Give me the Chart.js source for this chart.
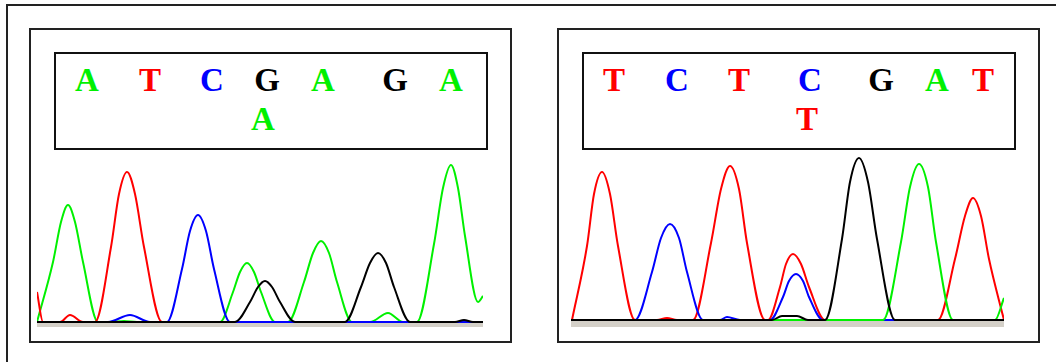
<!DOCTYPE html>
<html>
<head>
<meta charset="utf-8">
<script src="https://cdn.jsdelivr.net/npm/chart.js@4"></script>
<style>
  html, body { margin: 0; padding: 0; background: #fff; width: 1056px; height: 362px; overflow: hidden; }
  .frame { position: absolute; border: 2px solid #222; box-sizing: border-box; }
  .calls { position: absolute; border: 2px solid #111; box-sizing: border-box; background: #fff; }
  .base { position: absolute; font-family: "Liberation Serif", "Times New Roman", serif; font-weight: bold;
          font-size: 33px; line-height: 33px; transform: translateX(-50%); }
  canvas { position: absolute; }
</style>
</head>
<body>
<div class="frame" style="left:6px; top:4px; width:1100px; height:420px;"></div>
<div class="frame" style="left:29px; top:28px; width:483px; height:315px;"></div>
<div class="frame" style="left:557px; top:28px; width:483px; height:315px;"></div>
<div class="calls" style="left:54px; top:52px; width:434px; height:98px;"></div>
<div class="calls" style="left:582px; top:52px; width:434px; height:98px;"></div>
<div id="labels"></div>
<canvas id="left-trace" width="446" height="177" style="left:37px; top:150px;"></canvas>
<canvas id="right-trace" width="433" height="177" style="left:571px; top:150px;"></canvas>
<script>
// base calls, top row and the second (ambiguous) call
const leftCalls = ["A", "T", "C", "G", "A", "G", "A"];
const leftSecond = { index: 3, base: "A" };
const rightCalls = ["T", "C", "T", "C", "G", "A", "T"];
const rightSecond = { index: 3, base: "T" };

// trace samples: [scan, signal]
const leftA = [[0,0],[16,60],[24,100],[31,117],[38,100],[46,60],[61,0],[73,0],[87,1],[100,0],
  [183,0],[196,30],[203,50],[210,59],[217,50],[224,30],[238,0],
  [251,0],[267,40],[276,69],[284,81],[292,69],[300,40],[315,0],[333,0],[351,9],[366,0],
  [380,0],[397,78],[406,134],[414,157],[421,134],[428,86],[441,20],[446,26]];
const leftT = [[0,30],[6,0],[23,0],[33,7],[46,0],[58,0],[74,75],[82,128],[90,150],[98,128],[107,75],[125,0],[446,0]];
const leftC = [[0,0],[71,0],[93,7],[113,0],[130,0],[145,53],[153,91],[161,107],[169,91],[177,53],[193,0],[446,0]];
const leftG = [[0,0],[198,0],[213,20],[221,35],[228,41],[235,35],[243,20],[258,0],
  [308,0],[324,35],[333,59],[341,69],[349,59],[357,35],[373,0],[418,0],[427,2],[436,0],[446,0]];

const rightA = [[0,0],[312,0],[330,78],[339,133],[348,156],[357,133],[365,78],[382,0],[424,0],[433,22]];
const rightT = [[1,0],[16,74],[23,126],[31,148],[39,126],[47,74],[64,0],[86,0],[96,2],[106,0],
  [122,0],[140,77],[150,131],[159,154],[168,131],[176,77],[194,0],
  [197,0],[209,33],[215,56],[222,66],[230,56],[238,33],[254,0],
  [367,0],[384,61],[394,104],[402,122],[410,104],[418,61],[433,0]];
const rightC = [[0,0],[64,0],[81,48],[90,82],[99,96],[108,82],[116,48],[132,0],[149,0],[156,3],[169,0],
  [199,0],[212,23],[218,39],[225,46],[232,39],[238,23],[252,0],[433,0]];
const rightG = [[0,0],[201,0],[211,4],[226,4],[237,0],[254,0],[271,81],[279,138],[288,162],[297,138],[306,81],[324,0],[433,0]];

const colors = { A: "#00f000", T: "#ff0000", C: "#0000ff", G: "#000000" };

// base-call letters over each trace
const labelsEl = document.getElementById("labels");
const placeRow = (calls, xs, top) => {
  calls.forEach((b, i) => {
    const s = document.createElement("span");
    s.className = "base";
    s.textContent = b;
    s.style.color = colors[b];
    s.style.left = xs[i] + "px";
    s.style.top = top + "px";
    labelsEl.appendChild(s);
  });
};
const leftX = [87, 150, 212, 267, 323, 395, 451];
const rightX = [614, 677, 739, 810, 881, 937, 983];
placeRow(leftCalls, leftX, 64);
placeRow([leftSecond.base], [263], 103);
placeRow(rightCalls, rightX, 64);
placeRow([rightSecond.base], [807], 103);

// grey strip under the baseline
const floorStrip = {
  id: "floorStrip",
  beforeDatasetsDraw(chart) {
    const { ctx, chartArea, scales } = chart;
    const y0 = scales.y.getPixelForValue(0);
    ctx.save();
    ctx.fillStyle = "#d4d0c8";
    ctx.fillRect(chartArea.left, y0 + 1, chartArea.right - chartArea.left, chartArea.bottom - y0 - 1);
    ctx.restore();
  },
};

const traceChart = (id, traces, xMax, yMin, yMax) => {
  new Chart(document.getElementById(id), {
    type: "line",
    data: {
      datasets: traces.map(([b, pts]) => ({
        label: b,
        data: pts.map(([x, y]) => ({ x, y })),
        borderColor: colors[b],
        borderWidth: 2,
        pointRadius: 0,
        cubicInterpolationMode: "monotone",
        fill: false,
      })),
    },
    options: {
      responsive: false,
      animation: false,
      devicePixelRatio: 1,
      layout: { padding: 0 },
      plugins: { legend: { display: false }, tooltip: { enabled: false } },
      scales: {
        x: { type: "linear", min: 0, max: xMax, display: false },
        y: { min: yMin, max: yMax, display: false },
      },
    },
    plugins: [floorStrip],
  });
};

traceChart("left-trace", [["G", leftG], ["C", leftC], ["T", leftT], ["A", leftA]], 446, -5, 172);
traceChart("right-trace", [["G", rightG], ["A", rightA], ["C", rightC], ["T", rightT]], 433, -7, 170);
</script>
</body>
</html>
